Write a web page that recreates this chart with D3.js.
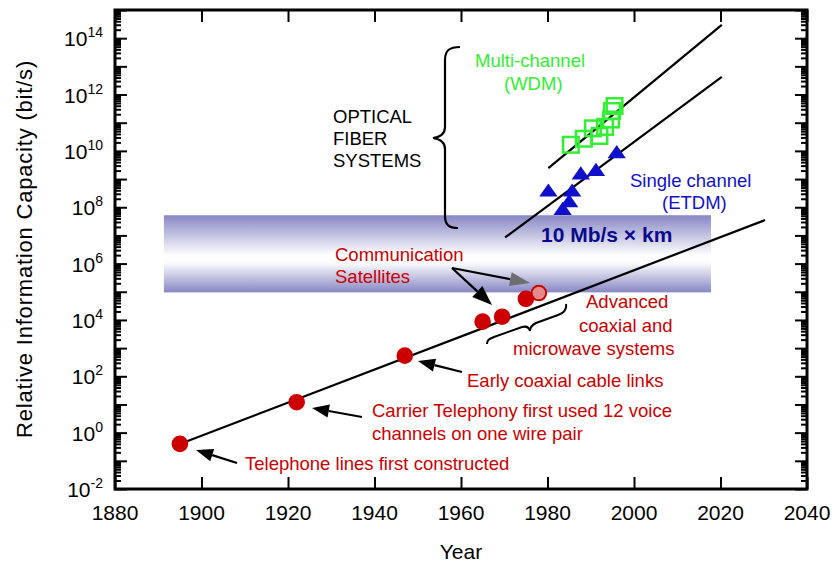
<!DOCTYPE html>
<html>
<head>
<meta charset="utf-8">
<script src="https://cdn.jsdelivr.net/npm/d3@7"></script>
<style>
  html, body { margin: 0; padding: 0; background: #fff; }
  svg { display: block; font-family: "Liberation Sans", Arial, Helvetica, sans-serif; }
</style>
</head>
<body>
<svg id="chart" width="834" height="564"></svg>
<script>
// Copper / radio era systems (year, bit/s)
const copperYears = [1895, 1922, 1947, 1965, 1969.5, 1975];
const copperCapacity = [0.4, 12, 540, 8700, 13000, 56000];
const satelliteYears = [1978];
const satelliteCapacity = [90000];

// Optical fibre: single channel (ETDM)
const etdmYears = [1980.2, 1983.5, 1985.0, 1985.7, 1987.7, 1991.2, 1996.0];
const etdmCapacity = [3.8e8, 8.5e7, 1.6e8, 3.8e8, 1.55e9, 2.05e9, 8.7e9];

// Optical fibre: multi-channel (WDM)
const wdmYears = [1985.4, 1988.4, 1990.5, 1992.0, 1993.3, 1994.7, 1994.9, 1995.5];
const wdmCapacity = [1.65e10, 2.7e10, 6.3e10, 3.4e10, 7.1e10, 1.3e11, 2.6e11, 3.9e11];

// Trend lines (start and end points)
const copperTrendYears = [1895.3, 2030.3];
const copperTrendCapacity = [0.41, 3.5e7];
const etdmTrendYears = [1970.2, 2020.3];
const etdmTrendCapacity = [8.5e6, 4.2e12];
const wdmTrendYears = [1980.2, 2020.3];
const wdmTrendCapacity = [2.45e9, 2.95e14];

// Shaded band (years, capacity)
const bandYears = [1891.3, 2017.8];
const bandCapacity = [9.5e4, 5.2e7];

// Axis ticks
const xTickYears = [1880, 1900, 1920, 1940, 1960, 1980, 2000, 2020, 2040];
const yTickExponents = [-2, 0, 2, 4, 6, 8, 10, 12, 14];

const svg = d3.select("#chart");
const x = d3.scaleLinear().domain([1880, 2040]).range([115, 807]);
const y = d3.scaleLog().domain([1e-2, 1e15]).range([489, 10]);

const RED = "#cc0000";
const GREEN = "#33ee33";
const BLUE = "#1010cc";
const FS = 18.5;

// gradient for the band
const defs = svg.append("defs");
const grad = defs.append("linearGradient").attr("id", "bandGrad")
  .attr("x1", 0).attr("y1", 0).attr("x2", 0).attr("y2", 1);
grad.append("stop").attr("offset", "0%").attr("stop-color", "#8787c5");
grad.append("stop").attr("offset", "52%").attr("stop-color", "#ffffff");
grad.append("stop").attr("offset", "62%").attr("stop-color", "#fbfbfd");
grad.append("stop").attr("offset", "100%").attr("stop-color", "#8787c5");

svg.append("rect")
  .attr("x", x(bandYears[0])).attr("y", y(bandCapacity[1]))
  .attr("width", x(bandYears[1]) - x(bandYears[0]))
  .attr("height", y(bandCapacity[0]) - y(bandCapacity[1]))
  .attr("fill", "url(#bandGrad)");

// ----- axes -----
const decades = d3.range(-2, 16).map(e => Math.pow(10, e));
const minors = [];
for (let e = -2; e < 15; e++) for (let m = 2; m <= 9; m++) minors.push(m * Math.pow(10, e));

function styleAxis(g) {
  g.select(".domain").remove();
  g.selectAll(".tick line").attr("stroke", "#000").attr("stroke-width", 2);
  g.selectAll(".tick text").remove();
}
svg.append("g").attr("transform", "translate(115,0)")
  .call(d3.axisLeft(y).tickValues(decades).tickSize(-12)).call(styleAxis);
svg.append("g").attr("transform", "translate(115,0)")
  .call(d3.axisLeft(y).tickValues(minors).tickSize(-6)).call(styleAxis);
svg.append("g").attr("transform", "translate(807,0)")
  .call(d3.axisRight(y).tickValues(decades).tickSize(-12)).call(styleAxis);
svg.append("g").attr("transform", "translate(807,0)")
  .call(d3.axisRight(y).tickValues(minors).tickSize(-6)).call(styleAxis);
svg.append("g").attr("transform", "translate(0,489)")
  .call(d3.axisBottom(x).tickValues(xTickYears).tickSize(-12)).call(styleAxis);
svg.append("g").attr("transform", "translate(0,10)")
  .call(d3.axisTop(x).tickValues(xTickYears).tickSize(-12)).call(styleAxis);

svg.append("rect").attr("x", 115).attr("y", 10).attr("width", 692).attr("height", 479)
  .attr("fill", "none").attr("stroke", "#000").attr("stroke-width", 3);

// tick labels
svg.append("g").selectAll("text").data(xTickYears).join("text")
  .attr("x", d => x(d)).attr("y", 520)
  .attr("text-anchor", "middle").attr("font-size", 21).text(d => d);

const yl = svg.append("g").selectAll("text").data(yTickExponents).join("text")
  .attr("x", 103).attr("y", d => y(Math.pow(10, d)) + 8)
  .attr("text-anchor", "end").attr("font-size", 21);
yl.append("tspan").text("10");
yl.append("tspan").attr("dy", -9).attr("font-size", 14).text(d => d);

svg.append("text").attr("x", 461).attr("y", 559).attr("text-anchor", "middle")
  .attr("font-size", 21).text("Year");
svg.append("text").attr("transform", "translate(32,249) rotate(-90)")
  .attr("text-anchor", "middle").attr("font-size", 22).attr("letter-spacing", 0.8)
  .text("Relative Information Capacity (bit/s)");

// ----- trend lines -----
const line = d3.line().x(d => x(d[0])).y(d => y(d[1]));
[[copperTrendYears, copperTrendCapacity], [etdmTrendYears, etdmTrendCapacity], [wdmTrendYears, wdmTrendCapacity]]
  .forEach(([yrs, cap]) => {
    svg.append("path").datum(yrs.map((v, i) => [v, cap[i]]))
      .attr("d", line).attr("fill", "none").attr("stroke", "#000").attr("stroke-width", 2.2);
  });

// ----- markers -----
svg.append("g").selectAll("circle").data(copperYears).join("circle")
  .attr("cx", d => x(d)).attr("cy", (d, i) => y(copperCapacity[i])).attr("r", 8.3)
  .attr("fill", RED);
svg.append("g").selectAll("circle").data(satelliteYears).join("circle")
  .attr("cx", d => x(d)).attr("cy", (d, i) => y(satelliteCapacity[i])).attr("r", 7.3)
  .attr("fill", "#e38a8a").attr("stroke", RED).attr("stroke-width", 2);

const tri = "M0,-7.5 L9.2,5.7 L-9.2,5.7 Z";
svg.append("g").selectAll("path").data(etdmYears).join("path")
  .attr("transform", (d, i) => `translate(${x(d)},${y(etdmCapacity[i])})`)
  .attr("d", tri).attr("fill", BLUE);

svg.append("g").selectAll("rect").data(wdmYears).join("rect")
  .attr("x", d => x(d) - 7.8).attr("y", (d, i) => y(wdmCapacity[i]) - 7.8)
  .attr("width", 15.6).attr("height", 15.6)
  .attr("fill", "none").attr("stroke", GREEN).attr("stroke-width", 2.5);

// ----- annotations -----
function arrow(x1, y1, x2, y2, color, headLen, headW) {
  const a = Math.atan2(y2 - y1, x2 - x1);
  const bx = x2 - headLen * Math.cos(a), by = y2 - headLen * Math.sin(a);
  svg.append("line").attr("x1", x1).attr("y1", y1).attr("x2", bx).attr("y2", by)
    .attr("stroke", "#000").attr("stroke-width", 2.2);
  const px = -Math.sin(a) * headW / 2, py = Math.cos(a) * headW / 2;
  svg.append("path")
    .attr("d", `M${x2},${y2} L${bx + px},${by + py} L${bx - px},${by - py} Z`)
    .attr("fill", color);
}

function label(lines, xs, y0, dy, color, size, weight) {
  lines.forEach((t, i) => {
    svg.append("text").attr("x", Array.isArray(xs) ? xs[i] : xs).attr("y", y0 + i * dy)
      .attr("fill", color).attr("font-size", size).attr("font-weight", weight || "normal").text(t);
  });
}

label(["OPTICAL", "FIBER", "SYSTEMS"], 333, 123, 22, "#000", FS);
svg.append("path")
  .attr("d", "M460,47 C450,47 445,50 445,60 L445,127 C445,134 440,137 433,138 C440,139 445,142 445,149 L445,216 C445,225 449,228 458,228")
  .attr("fill", "none").attr("stroke", "#000").attr("stroke-width", 2.2);

label(["Multi-channel"], 475, 67, 0, GREEN, FS);
label(["(WDM)"], 504, 90, 0, GREEN, FS);
label(["Single channel"], 630, 187, 0, BLUE, FS);
label(["(ETDM)"], 662, 209, 0, BLUE, FS);
label(["10 Mb/s \u00d7 km"], 541, 242, 0, "#0a0a8c", 21, "bold");

label(["Communication", "Satellites"], 335, 261, 22, RED, FS);
arrow(452, 268, 530, 283, "#6e6e6e", 20, 14);
arrow(452, 268, 492, 305, "#000", 20, 15);

label(["Advanced"], 586, 308, 0, RED, FS);
label(["coaxial and"], 579, 332, 0, RED, FS);
label(["microwave systems"], 513, 355, 0, RED, FS);
svg.append("path")
  .attr("d", "M566,304 C567,310 564,313 558,315 L536,323 C532,325 530,327 530,331 C529,327 526,326 522,327 L494,337 C489,339 487,340 487,344")
  .attr("fill", "none").attr("stroke", "#000").attr("stroke-width", 2);

label(["Early coaxial cable links"], 467, 387, 0, RED, FS);
arrow(462, 372, 418, 361, "#000", 17, 13);

label(["Carrier Telephony first used 12 voice", "channels on one wire pair"], 372, 417, 22.5, RED, FS);
arrow(362, 417, 312, 408, "#000", 17, 13);

label(["Telephone lines first constructed"], 245, 470, 0, RED, FS);
arrow(237, 463, 196, 450, "#000", 17, 13);
</script>
</body>
</html>
